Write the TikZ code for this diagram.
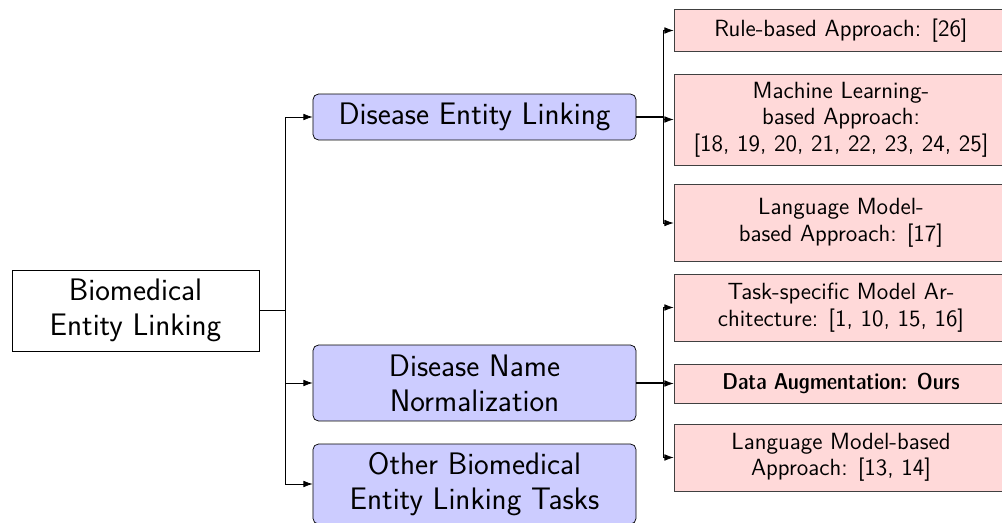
\documentclass[tikz,border=0pt]{standalone}
\usetikzlibrary{arrows.meta}
\begin{document}
\begin{tikzpicture}[x=0.5464pt,y=-0.5464pt,
  every node/.style={align=center, inner sep=2pt},
  bigfont/.style={font=\sffamily\fontsize{17}{19.2}\selectfont},
  smallfont/.style={font=\sffamily\fontsize{12.8}{14.5}\selectfont},
  rootbox/.style={draw=black, fill=white, minimum width=135pt, minimum height=44.3pt, bigfont},
  catbox/.style={draw=black, fill=blue!20, rounded corners=3pt, minimum width=176.5pt, bigfont},
  leafbox/.style={draw=black!75, fill=red!15, minimum width=182.5pt, smallfont},
  conn/.style={-{Latex[length=5pt,width=3.6pt]}, line width=0.4pt},
  stem/.style={line width=0.9pt}
]
\useasboundingbox (0,0) rectangle (1002,523);
\clip (0,0) rectangle (1002,523);

\node[rootbox] (root) at (135.5,310.5) {Biomedical\\Entity Linking};

\node[catbox, minimum height=25.1pt] (del) at (474.5,117) {Disease Entity Linking};
\node[catbox, minimum height=41.5pt] (dnn) at (474.5,383) {Disease Name\\Normalization};
\node[catbox, minimum height=43.7pt] (oth) at (474.5,484) {Other Biomedical\\Entity Linking Tasks};

\node[leafbox, minimum height=23pt] (rule) at (841,30.5) {Rule-based Approach: [26]};
\node[leafbox, minimum height=49.7pt] (ml) at (841,119.5) {Machine Learning-\\based Approach:\\{[18, 19, 20, 21, 22, 23, 24, 25]}};
\node[leafbox, minimum height=42pt] (lm1) at (841,223) {Language Model-\\based Approach: [17]};

\node[leafbox, minimum height=36.6pt] (task) at (841,307.5) {Task-specific Model Ar-\\chitecture: [1, 10, 15, 16]};
\node[leafbox, minimum height=21.3pt] (aug) at (841,383.5) {\fontsize{12.5}{14.5}\fontseries{sbc}\selectfont Data Augmentation: Ours};
\node[leafbox, minimum height=36.6pt] (lm2) at (841,457.5) {Language Model-based\\Approach: [13, 14]};

\coordinate (j0) at (285,310.5);
\coordinate (j1) at (663,117);
\coordinate (j2) at (663,383);

\draw[stem] (root.east) -- (j0);
\draw[conn] (j0) |- (del.west);
\draw[conn] (j0) |- (dnn.west);
\draw[conn] (j0) |- (oth.west);

\draw[stem] (del.east) -- (j1);
\draw[conn] (j1) |- (rule.west);
\draw[conn] (j1) |- (ml.west);
\draw[conn] (j1) |- (lm1.west);

\draw[stem] (dnn.east) -- (j2);
\draw[conn] (j2) |- (task.west);
\draw[conn] (j2) |- (aug.west);
\draw[conn] (j2) |- (lm2.west);
\end{tikzpicture}
\end{document}
